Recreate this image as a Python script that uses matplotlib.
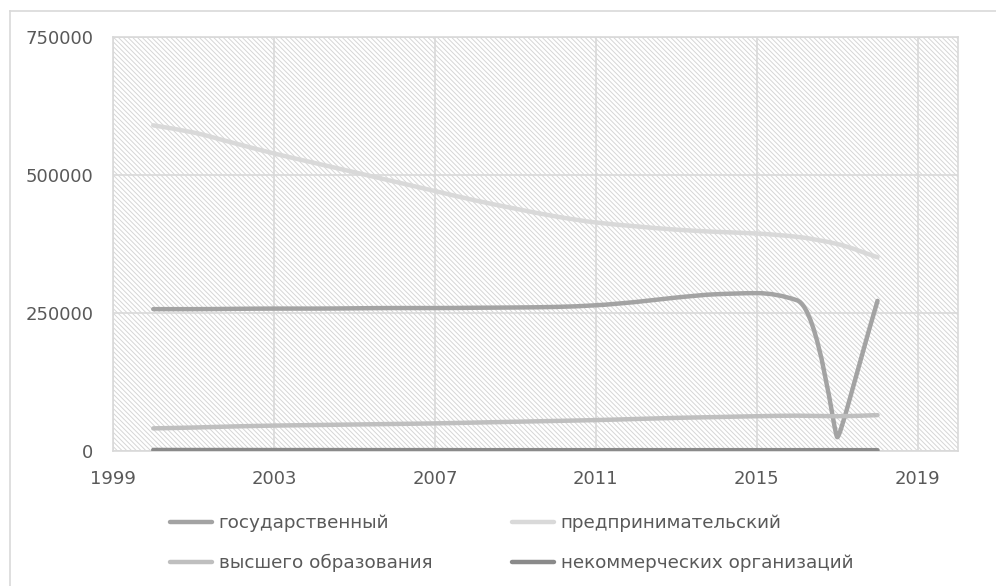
import matplotlib
matplotlib.use('Agg')
import matplotlib.pyplot as plt
from matplotlib.patches import Rectangle, PathPatch
from matplotlib.path import Path
from matplotlib.lines import Line2D
import numpy as np

plt.rcParams['font.family'] = ['DejaVu Sans']
plt.rcParams['hatch.linewidth'] = 0.7

years = list(range(2000, 2019))

# thousands
state = [257, 257, 257.5, 258, 258, 258.5, 259, 259, 259.5, 260, 261, 264, 270, 278, 284, 286, 273, 25, 272]
business = [590, 577, 558, 539, 522, 505, 488, 471, 454, 439, 425, 414, 407, 401, 397, 394, 388, 375, 351]
higher_ed = [41, 42.5, 44.5, 46, 47, 48, 49, 50, 51.5, 53, 54.5, 56, 58, 60, 61.5, 63, 64, 63, 65]
nonprofit = [1.9, 1.8, 1.8, 1.7, 1.7, 1.6, 1.6, 1.6, 1.5, 1.5, 1.5, 1.5, 1.5, 1.5, 1.5, 1.5, 1.5, 1.5, 1.5]

labels = ['государственный', 'предпринимательский', 'высшего образования', 'некоммерческих организаций']
colors = ['#a3a3a3', '#d9d9d9', '#bfbfbf', '#8a8a8a']

x_ticks = [1999, 2003, 2007, 2011, 2015, 2019]
y_ticks = [0, 250000, 500000, 750000]

W, H = 996, 586
fig = plt.figure(figsize=(W / 100, H / 100), dpi=100)
ax = fig.add_axes([113 / W, 1 - 451 / H, (958 - 113) / W, (451 - 37) / H])
ax.set_xlim(1999, 2020)
ax.set_ylim(0, 750000)

# screen px per data unit (for the sharp-tip rule)
sx = (958 - 113) / 21.0
sy = (451 - 37) / 750000.0


def smooth_path(xs, ys):
    # bezier through the points, tangents like a monotone spline,
    # steep extrema drawn as a near-sharp tip
    x = np.asarray(xs, float)
    y = np.asarray(ys, float)
    n = len(x)
    h = np.diff(x)
    d = np.diff(y) / h
    m = np.zeros(n)
    s = np.ones(n)
    tip = np.zeros(n, bool)
    m[0], m[-1] = d[0], d[-1]
    for i in range(1, n - 1):
        if d[i - 1] * d[i] > 0:
            m[i] = 2 * d[i - 1] * d[i] / (d[i - 1] + d[i])
        else:
            m[i] = 0.0
            steep = max(abs(d[i - 1]), abs(d[i])) * sy / sx
            s[i] = min(1.0, 0.8 / max(steep, 1e-9))
            tip[i] = steep > 1
    verts = [(x[0], y[0])]
    codes = [Path.MOVETO]
    for i in range(n - 1):
        a = h[i] / 3 * s[i]
        b = h[i] / 3 * s[i + 1]
        if tip[i + 1]:
            a = h[i] * 0.55
        if tip[i]:
            b = h[i] * 0.55
        verts += [(x[i] + a, y[i] + m[i] * a), (x[i + 1] - b, y[i + 1] - m[i + 1] * b), (x[i + 1], y[i + 1])]
        codes += [Path.CURVE4] * 3
    return Path(verts, codes)


# hatched plot area
ax.add_patch(Rectangle((0, 0), 1, 1, transform=ax.transAxes, facecolor='white',
                       edgecolor='#d6d6d6', hatch='\\' * 7, linewidth=0, zorder=0))
ax.set_facecolor('none')

series = [state, business, higher_ed, nonprofit]
handles = []
for vals, c, lab in zip(series, colors, labels):
    p = smooth_path(years, [v * 1000 for v in vals])
    ax.add_patch(PathPatch(p, facecolor='none', edgecolor=c, linewidth=3.2,
                           capstyle='round', joinstyle='round', zorder=3))
    handles.append(Line2D([], [], color=c, linewidth=3.2, solid_capstyle='round', label=lab))

ax.set_xticks(x_ticks)
ax.set_yticks(y_ticks)
ax.set_yticklabels([str(v) for v in y_ticks])
ax.grid(True, color='#d9d9d9', linewidth=1.2)
ax.set_axisbelow(True)
ax.tick_params(length=0, labelsize=13, labelcolor='#595959')
ax.tick_params(axis='x', pad=14)
ax.tick_params(axis='y', pad=14)
for sp in ax.spines.values():
    sp.set_color('#d9d9d9')
    sp.set_linewidth(1.2)

# legend: two columns placed separately
for cols, xpos in (([0, 2], 170), ([1, 3], 512)):
    fig.legend([handles[i] for i in cols], [labels[i] for i in cols],
               loc='upper left', bbox_to_anchor=(xpos / W, 1 - 514 / H), frameon=False,
               fontsize=13.2, labelcolor='#595959', handlelength=2.3, handletextpad=0.35,
               labelspacing=1.2, borderpad=0, borderaxespad=0)

# outer chart border (cropped on right/bottom)
fig.add_artist(Line2D([10 / W, 1], [1 - 11 / H, 1 - 11 / H], color='#d9d9d9', linewidth=1.2))
fig.add_artist(Line2D([10 / W, 10 / W], [0, 1 - 11 / H], color='#d9d9d9', linewidth=1.2))

fig.savefig('out.png', dpi=100)
